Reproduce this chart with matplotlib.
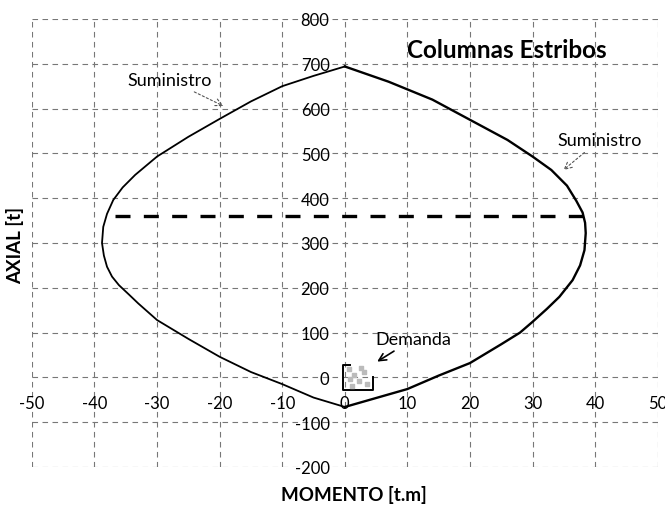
import matplotlib
matplotlib.use("Agg")
import matplotlib.pyplot as plt

# =============================
# DATA
# =============================
# interaction diagram, right branch (bottom -> top)
m_right = [0, 5, 10, 15, 20, 25, 28, 30, 32.3, 34.3, 36.4, 37.6, 38.3, 38.5, 38.4, 38.0,
           37.0, 35.5, 33, 30, 26, 20, 14, 7, 0]
p_right = [-66, -46, -26, 4, 32, 74, 100, 124, 153, 180, 217, 250, 284, 322, 345, 368,
           394, 428, 463, 493, 530, 575, 620, 660, 694]

# left branch (top -> bottom)
m_left = [0, -5, -10, -15, -20, -25, -30, -33.5, -35.5, -37, -38.0, -38.6, -38.8, -38.5,
          -38.0, -37.2, -36.1, -34.5, -33, -30, -25, -20, -15, -10, -5, 0]
p_left = [694, 673, 650, 616, 577, 537, 493, 452, 424, 396, 365, 336, 300, 272,
          247, 225, 206, 185, 165, 128, 86, 46, 12, -15, -45, -66]

# axial cap (dashed line)
cap_m = [-36.8, 38.4]
cap_p = [360, 360]

# demand points
dem_m = [0.6, 1.5, 2.2, 3.0, 3.6, 1.2, 2.6, 0.9]
dem_p = [18, 5, -8, 12, -15, -20, 22, -4]

x_ticks = list(range(-50, 51, 10))
y_ticks = list(range(-200, 801, 100))

FONT = "Lato"
plt.rcParams["axes.unicode_minus"] = False

# =============================
# PLOT
# =============================
fig = plt.figure(figsize=(6.65, 5.06), dpi=100)
ax = fig.add_axes([0.048, 0.0751, 0.941, 0.8854])

ax.set_xlim(-50, 50)
ax.set_ylim(-200, 800)
ax.set_xticks(x_ticks)
ax.set_yticks(y_ticks)
ax.grid(True, color="#777777", lw=0.8, ls=(0, (5, 4)))
ax.set_axisbelow(True)

# axes cross at zero like Excel
for side in ["left", "bottom"]:
    ax.spines[side].set_position(("data", 0))
    ax.spines[side].set_color("none")
for side in ["right", "top"]:
    ax.spines[side].set_visible(False)

ax.tick_params(axis="both", length=0, labelsize=12)
ax.tick_params(axis="y", pad=11)
ax.tick_params(axis="x", pad=13)
for lab in ax.get_xticklabels() + ax.get_yticklabels():
    lab.set_fontfamily(FONT)

ax.plot(m_right, p_right, color="black", lw=1.7)
ax.plot(m_left, p_left, color="black", lw=1.3)
ax.plot(cap_m, cap_p, color="black", lw=2.4, ls=(0, (4.5, 4)))

# demand cluster + bracket
ax.scatter(dem_m, dem_p, s=10, marker="s", color="#bbbbbb", zorder=3)
x0, x1 = min(dem_m) - 0.9, max(dem_m) + 0.9
y0, y1 = min(dem_p) - 8, max(dem_p) + 6
ax.plot([x0 + 1.2, x0, x0, x1, x1], [y1, y1, y0, y0, y0 + 30], color="black", lw=1.4)

arrow = dict(arrowstyle="->", color="#555555", lw=0.8, ls=(0, (2, 2)))
ax.annotate("Suministro", xy=(-19, 603), xytext=(-28, 664), fontsize=13, family=FONT,
            ha="center", va="center", arrowprops=arrow)
ax.annotate("Suministro", xy=(34.6, 459), xytext=(40.7, 530), fontsize=13, family=FONT,
            ha="center", va="center", arrowprops=arrow)
ax.annotate("Demanda", xy=(4.8, 32), xytext=(11, 86), fontsize=13, family=FONT,
            ha="center", va="center",
            arrowprops=dict(arrowstyle="->", color="black", lw=1.2))

ax.text(25.9, 733, "Columnas Estribos", fontsize=17.5, fontweight="bold", family=FONT,
        ha="center", va="center")

fig.text(0.532, 0.022, "MOMENTO [t.m]", fontsize=13.5, fontweight="bold", family=FONT,
         ha="center", va="center")
fig.text(0.022, 0.515, "AXIAL [t]", fontsize=13.5, fontweight="bold", family=FONT,
         ha="center", va="center", rotation=90)

fig.savefig("out.png", dpi=100)
